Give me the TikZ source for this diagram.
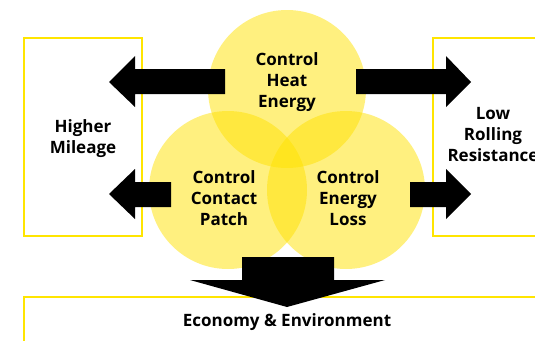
\documentclass[tikz,border=0pt]{standalone}
\usepackage{fontspec}
\setmainfont{Open Sans}
\definecolor{circy}{HTML}{FFE100}
\definecolor{boxy}{HTML}{FFE500}
\tikzset{
  circ/.style={circle, minimum size=158pt, inner sep=0pt, fill=circy, fill opacity=0.5, draw=none},
  ybox/.style={draw=boxy, line width=2pt},
  blk/.style={fill=black, draw=none},
  lbl/.style={font=\fontsize{17}{21}\selectfont\bfseries, align=center, text=black, inner sep=0pt}
}
\begin{document}
\begin{tikzpicture}[x=1pt,y=-1pt]
\useasboundingbox (0,0) rectangle (535,340);
\clip (0,0) rectangle (535,340);
% boxes
\draw[ybox] (24,38) rectangle (142,236);
\draw[ybox] (433,38) rectangle (570,236);
\draw[ybox] (24,380) -- (24,297) -- (570,297);
% circles
\node[circ] (heat) at (287,89) {};
\node[circ] (patch) at (228,190) {};
\node[circ] (loss) at (346,190) {};
% labels
\node[lbl] (theat) at (287,82) {Control\\Heat\\Energy};
\node[lbl] (tpatch) at (224,198) {Control\\Contact\\Patch};
\node[lbl] (tloss) at (348,198) {Control\\Energy\\Loss};
\node[lbl] (mile) at (83,139) {Higher\\Mileage};
\node[lbl] (lrr) at (493,135) {Low\\Rolling\\Resistance};
\node[lbl] (eco) at (287,322) {Economy \& Environment};
% block arrows
\fill[blk] (225,69) -- (135,69) -- (135,56) -- (109,82) -- (135,107) -- (135,94) -- (225,94) -- cycle;
\fill[blk] (171,182) -- (135,182) -- (135,169) -- (109,194) -- (135,219) -- (135,207) -- (171,207) -- cycle;
\fill[blk] (356,69) -- (446,69) -- (446,56) -- (471,82) -- (446,107) -- (446,94) -- (356,94) -- cycle;
\fill[blk] (410,182) -- (446,182) -- (446,169) -- (471,194) -- (446,219) -- (446,207) -- (410,207) -- cycle;
\fill[blk] (242,257) -- (334,257) -- (334,280) -- (385,280) -- (287,307) -- (190,280) -- (242,280) -- cycle;
\end{tikzpicture}
\end{document}
